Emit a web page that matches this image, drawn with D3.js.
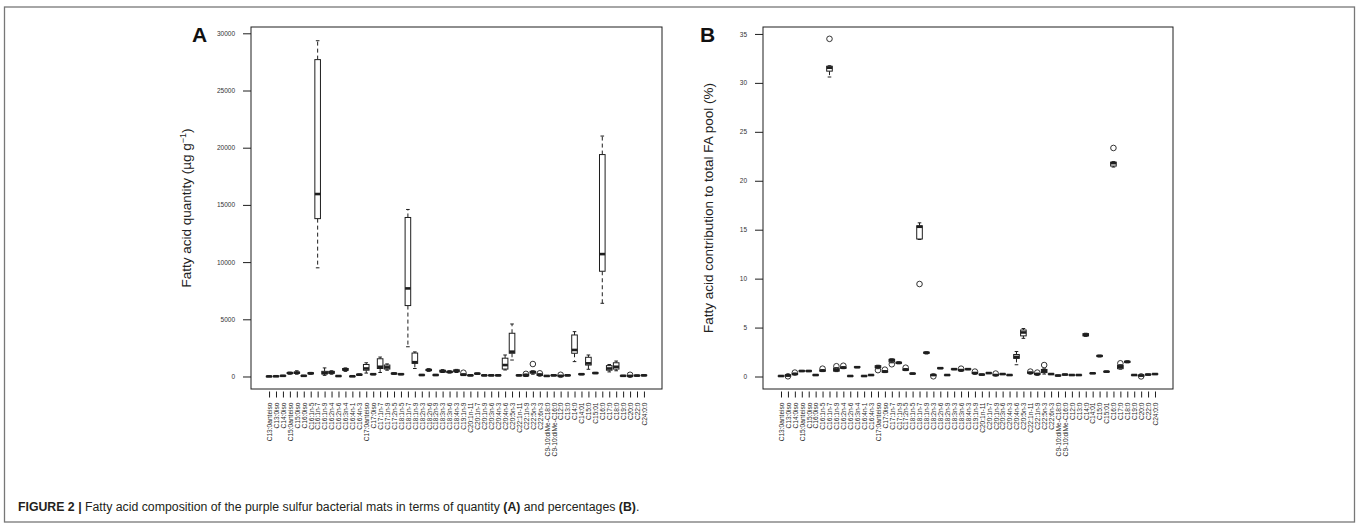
<!DOCTYPE html>
<html><head><meta charset="utf-8">
<script src="https://cdn.jsdelivr.net/npm/d3@7"></script>
<style>
body{margin:0;background:#fff;}
text{font-family:"Liberation Sans",Arial,sans-serif;}
</style>
</head><body>
<svg id="c" width="1362" height="529"></svg>
<script>
const categories = ["C13:0anteiso","C13:0iso","C14:0iso","C15:0anteiso","C15:0iso","C16:0iso","C16:1n-5","C16:1n-7","C16:1n-9","C16:2n-4","C16:2n-6","C16:3n-4","C16:4n-1","C16:4n-3","C17:0anteiso","C17:0iso","C17:1n-7","C17:1n-9","C17:2n-5","C18:1n-5","C18:1n-7","C18:1n-9","C18:2n-3","C18:2n-6","C18:2n-9","C18:3n-3","C18:3n-6","C18:4n-3","C19:1n-9","C20:1n-11","C20:1n-7","C20:1n-9","C20:3n-6","C20:4n-3","C20:4n-6","C20:5n-3","C22:1n-11","C22:1n-9","C22:5n-3","C22:6n-3","C9-10:diMe-C18:0","C9-10:diMe-C16:0","C12:0","C13:0","C14:0","C14:01","C15:0","C15:01","C16:0","C17:0","C18:0","C19:0","C20:0","C22:0","C24:0:0"];

// Panel A: quantity (µg g-1) box statistics
const qtyMin = [0,0,20,200,200,20,200,9500,100,200,0,450,0,100,300,150,350,550,200,150,2600,700,80,450,80,350,300,350,100,60,200,60,60,60,570,1440,60,0,200,50,20,60,0,60,1300,150,630,250,6400,400,500,20,0,40,60];
const qtyQ1  = [5,10,40,260,280,40,240,13800,220,280,20,550,10,130,550,180,700,650,230,180,6200,1150,110,520,110,400,350,420,130,80,230,80,80,80,650,2030,80,60,300,100,40,80,30,80,2030,180,1000,280,9200,550,650,40,30,60,80];
const qtyMed = [10,20,60,300,330,60,280,15950,300,350,40,600,20,160,700,200,850,800,260,200,7700,1250,130,570,130,450,400,480,150,100,250,100,100,100,1000,2170,100,100,380,150,50,100,50,100,2320,200,1150,300,10700,700,850,60,50,80,100];
const qtyQ3  = [20,35,80,340,380,80,320,27700,450,450,60,700,30,190,1050,230,1550,1000,290,230,13900,2050,150,620,150,550,450,580,200,120,280,120,120,120,1600,3780,120,180,450,200,60,120,80,120,3630,230,1680,330,19400,950,1200,80,70,100,120];
const qtyMax = [30,50,100,380,500,100,360,29350,750,500,80,750,40,220,1200,260,1700,1100,320,260,14600,2150,180,680,180,600,500,620,230,140,300,140,140,140,1880,4590,140,220,500,230,80,140,100,140,3920,260,1880,360,21020,1050,1350,100,90,120,140];
const qtyOutliers = [["C19:1n-9",330],["C22:1n-9",230],["C22:5n-3",1090],["C22:6n-3",280],["C12:0",150],["C20:0",150]];
const qtyTicks = [0,5000,10000,15000,20000,25000,30000];

// Panel B: contribution to total FA pool (%) box statistics
const pctMin = [0.02,0.05,0.2,0.5,0.5,0.1,0.5,30.6,0.5,0.8,0.02,0.9,0.02,0.12,0.8,0.4,1.4,1.3,0.6,0.25,14.0,2.3,0.1,0.8,0.12,0.7,0.55,0.7,0.25,0.15,0.3,0.1,0.2,0.12,1.2,3.9,0.3,0.15,0.25,0.2,0.06,0.16,0.12,0.12,4.1,0.3,2.0,0.45,21.4,0.75,1.4,0.12,0.05,0.16,0.2];
const pctQ1  = [0.04,0.08,0.22,0.53,0.53,0.12,0.55,31.2,0.55,0.85,0.04,0.93,0.04,0.14,0.9,0.45,1.5,1.35,0.65,0.28,14.05,2.38,0.12,0.83,0.14,0.73,0.6,0.73,0.3,0.18,0.33,0.12,0.22,0.14,1.85,4.15,0.35,0.2,0.4,0.22,0.08,0.18,0.14,0.14,4.15,0.32,2.05,0.48,21.5,0.8,1.45,0.14,0.08,0.18,0.22];
const pctMed = [0.05,0.1,0.25,0.56,0.56,0.15,0.6,31.55,0.65,0.9,0.05,0.95,0.05,0.15,1.0,0.5,1.7,1.4,0.7,0.3,15.3,2.43,0.15,0.85,0.15,0.75,0.65,0.75,0.35,0.2,0.35,0.15,0.25,0.15,2.0,4.5,0.38,0.25,0.55,0.25,0.1,0.2,0.15,0.15,4.25,0.33,2.1,0.5,21.8,1.0,1.5,0.15,0.1,0.2,0.25];
const pctQ3  = [0.07,0.15,0.3,0.6,0.6,0.18,0.65,31.7,0.85,0.95,0.07,1.0,0.07,0.17,1.1,0.55,1.75,1.45,0.75,0.32,15.4,2.48,0.18,0.88,0.17,0.78,0.7,0.78,0.4,0.22,0.38,0.18,0.27,0.17,2.25,4.75,0.42,0.3,0.72,0.28,0.12,0.22,0.17,0.17,4.38,0.35,2.15,0.52,21.9,1.15,1.55,0.17,0.12,0.22,0.28];
const pctMax = [0.09,0.2,0.35,0.62,0.62,0.2,0.7,31.75,0.9,1.0,0.09,1.02,0.09,0.19,1.15,0.6,1.8,1.5,0.8,0.35,15.7,2.52,0.2,0.9,0.19,0.8,0.72,0.8,0.42,0.25,0.4,0.2,0.3,0.19,2.55,4.9,0.45,0.33,0.78,0.3,0.14,0.24,0.19,0.19,4.42,0.37,2.18,0.55,21.95,1.2,1.6,0.19,0.15,0.24,0.3];
const pctOutliers = [["C13:0iso",0.02],["C14:0iso",0.4],["C16:1n-5",0.8],["C16:1n-7",34.5],["C16:1n-9",1.05],["C16:2n-4",1.1],["C17:0anteiso",0.65],["C17:0iso",0.7],["C17:1n-7",1.25],["C17:2n-5",0.9],["C18:1n-7",9.45],["C18:2n-3",0.02],["C18:3n-6",0.8],["C19:1n-9",0.5],["C20:1n-9",0.3],["C22:1n-11",0.5],["C22:1n-9",0.4],["C22:5n-3",1.17],["C16:0",23.35],["C17:0",1.35],["C20:0",0.01]];
const pctTicks = [0,5,10,15,20,25,30,35];

const svg = d3.select("#c");
svg.append("rect").attr("width",1362).attr("height",529).attr("fill","#fff");

const INK = "#1e1e1e";

function panel(o){
  const g = svg.append("g");
  const x = d3.scalePoint().domain(categories).range([o.left,o.right]).padding(2.6);
  const y = d3.scaleLinear().domain(o.domain).range([o.bottom,o.top]);
  const bw = 5.6;

  // y axis
  const ya = g.append("g").attr("transform",`translate(${o.left},0)`)
    .call(d3.axisLeft(y).tickValues(o.ticks).tickSize(8).tickPadding(8).tickFormat(d3.format("d")));
  ya.select(".domain").remove();
  ya.selectAll("line").attr("stroke",INK).attr("stroke-width",1);
  ya.selectAll("text").attr("font-size",6.5).attr("fill","#333").attr("font-family","Liberation Sans, Arial, sans-serif");

  // x axis
  const xa = g.append("g").attr("transform",`translate(0,${o.bottom+2.5})`)
    .call(d3.axisBottom(x).tickSize(6));
  xa.select(".domain").remove();
  xa.selectAll("line").attr("stroke",INK).attr("stroke-width",1);
  xa.selectAll("text").attr("font-size",6.6).attr("fill","#2a2a2a")
    .attr("font-family","Liberation Sans, Arial, sans-serif")
    .attr("transform","rotate(-90)").attr("x",-11).attr("y",0).attr("dy","0.35em")
    .style("text-anchor","end");

  // boxes
  const bx = g.append("g");
  categories.forEach((c,i)=>{
    const cx = x(c);
    const s = o.stats;
    const mn=s.min[i], q1=s.q1[i], md=s.med[i], q3=s.q3[i], mx=s.max[i];
    const b = bx.append("g");
    if (mx > q3) {
      b.append("line").attr("x1",cx).attr("x2",cx).attr("y1",y(q3)).attr("y2",y(mx))
        .attr("stroke",INK).attr("stroke-width",1).attr("stroke-dasharray","4,3");
      b.append("line").attr("x1",cx-1.8).attr("x2",cx+1.8).attr("y1",y(mx)).attr("y2",y(mx))
        .attr("stroke",INK).attr("stroke-width",1);
    }
    if (mn < q1) {
      b.append("line").attr("x1",cx).attr("x2",cx).attr("y1",y(q1)).attr("y2",y(mn))
        .attr("stroke",INK).attr("stroke-width",1).attr("stroke-dasharray","4,3");
      b.append("line").attr("x1",cx-1.8).attr("x2",cx+1.8).attr("y1",y(mn)).attr("y2",y(mn))
        .attr("stroke",INK).attr("stroke-width",1);
    }
    b.append("rect").attr("x",cx-bw/2).attr("width",bw)
      .attr("y",y(q3)).attr("height",Math.max(0.5,y(q1)-y(q3)))
      .attr("fill","#fff").attr("stroke",INK).attr("stroke-width",1);
    b.append("line").attr("x1",cx-bw/2).attr("x2",cx+bw/2).attr("y1",y(md)).attr("y2",y(md))
      .attr("stroke",INK).attr("stroke-width",2.6);
  });
  o.outliers.forEach(([c,v])=>{
    bx.append("circle").attr("cx",x(c)).attr("cy",y(v)).attr("r",2.8)
      .attr("fill","none").attr("stroke",INK).attr("stroke-width",0.9);
  });

  // frame
  g.append("rect").attr("x",o.left).attr("y",o.top).attr("width",o.right-o.left).attr("height",o.bottom-o.top)
    .attr("fill","none").attr("stroke",INK).attr("stroke-width",1);

  // y label
  const yl = g.append("text").attr("transform",`translate(${o.ylabX},${(o.top+o.bottom)/2}) rotate(-90)`)
    .attr("text-anchor","middle").attr("font-size",13.5).attr("fill","#222");
  o.ylab(yl);

  // panel letter
  g.append("text").attr("x",o.letterX).attr("y",42).attr("font-size",21).attr("font-weight","bold")
    .attr("fill","#111").text(o.letter);
}

panel({
  left:251,right:662,top:27,bottom:389,
  domain:[-1093,30551], ticks:qtyTicks,
  stats:{min:qtyMin,q1:qtyQ1,med:qtyMed,q3:qtyQ3,max:qtyMax},
  outliers:qtyOutliers, letter:"A", letterX:192, ylabX:191,
  ylab:t=>{ t.append("tspan").text("Fatty acid quantity (µg g");
            t.append("tspan").attr("dy",-5).attr("font-size",9).text("−1");
            t.append("tspan").attr("dy",5).text(")"); }
});
panel({
  left:763,right:1173,top:27,bottom:389,
  domain:[-1.277,35.71], ticks:pctTicks,
  stats:{min:pctMin,q1:pctQ1,med:pctMed,q3:pctQ3,max:pctMax},
  outliers:pctOutliers, letter:"B", letterX:700, ylabX:713,
  ylab:t=>t.text("Fatty acid contribution to total FA pool (%)")
});

// outer figure frame
svg.append("rect").attr("x",4.5).attr("y",7).attr("width",1350).attr("height",515)
  .attr("fill","none").attr("stroke","#777").attr("stroke-width",1.3);

// caption
const cap = svg.append("text").attr("x",18).attr("y",511).attr("font-size",12.3).attr("fill","#231f20");
cap.append("tspan").attr("font-weight","bold").text("FIGURE 2 |");
cap.append("tspan").text(" Fatty acid composition of the purple sulfur bacterial mats in terms of quantity ");
cap.append("tspan").attr("font-weight","bold").text("(A)");
cap.append("tspan").text(" and percentages ");
cap.append("tspan").attr("font-weight","bold").text("(B)");
cap.append("tspan").text(".");
</script>
</body></html>
